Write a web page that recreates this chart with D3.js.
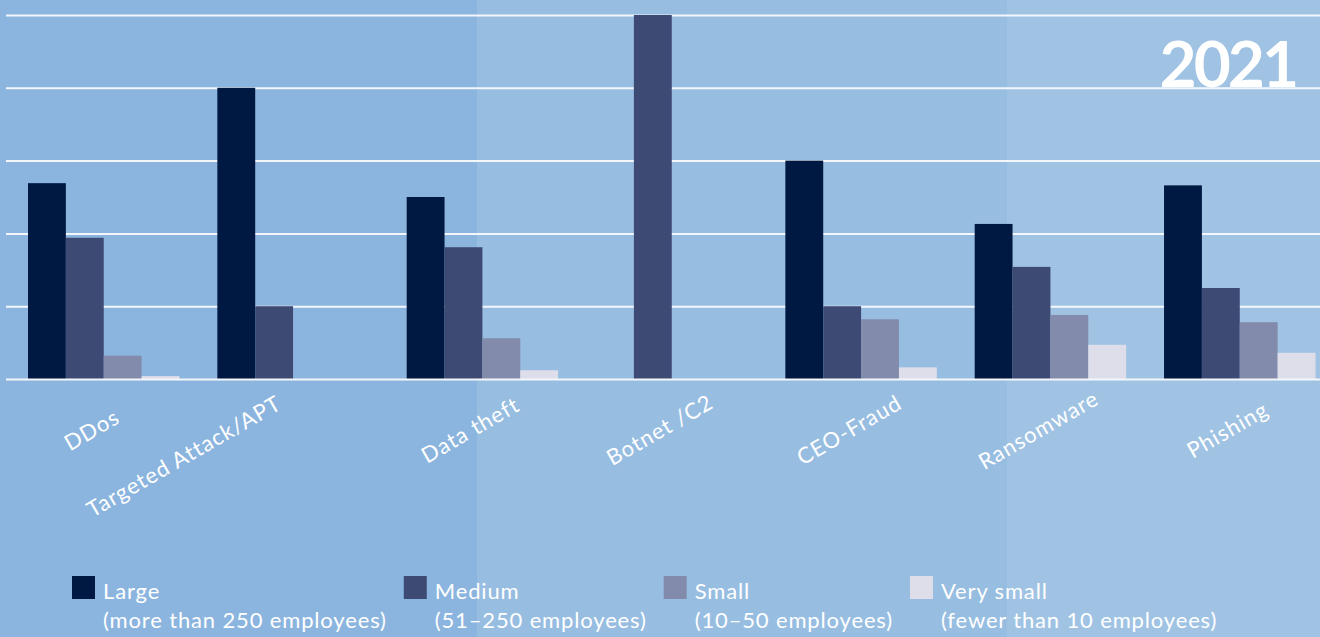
<!DOCTYPE html>
<html><head><meta charset="utf-8">
<script src="https://cdn.jsdelivr.net/npm/d3@7"></script>
<style>html,body{margin:0;padding:0;overflow:hidden;background:#8BB5DE}</style>
</head><body><svg id="c" width="1320" height="637"></svg>
<script>
// ---- data ----
const categories = ["DDos", "Targeted Attack/APT", "Data theft", "Botnet /C2", "CEO-Fraud", "Ransomware", "Phishing"];
const seriesNames = ["Large", "Medium", "Small", "Very small"];
const seriesNotes = ["(more than 250 employees)", "(51–250 employees)", "(10–50 employees)", "(fewer than 10 employees)"];
const large     = [26.9, 40.0, 25.0, 0,    30.0, 21.3, 26.6];
const medium    = [19.4, 10.0, 18.1, 50.0, 10.0, 15.4, 12.5];
const small     = [3.2,  0,    5.6,  0,    8.2,  8.8,  7.8];
const verySmall = [0.4,  0,    1.2,  0,    1.6,  4.7,  3.6];
const yTicks = [10, 20, 30, 40, 50];
const yearLabel = "2021";

// ---- layout / style ----
const W = 1320, H = 637;
const colors = ["#001943", "#3C4A74", "#828BAB", "#DEDEEA"];
const bgEdges = [0, 477, 1007, 1320];
const bgColors = ["#8BB5DE", "#97BDE1", "#A0C3E4"];
const font = "Lato, 'Noto Sans', sans-serif";

const seriesValues = [large, medium, small, verySmall];
const table = categories.map((c, i) => ({
  category: c,
  values: seriesNames.map((s, j) => ({ series: s, value: seriesValues[j][i] }))
}));

const svg = d3.select("#c");

// background panels
svg.selectAll("rect.bg").data(bgColors).join("rect")
  .attr("class", "bg")
  .attr("x", (d, i) => bgEdges[i]).attr("y", 0)
  .attr("width", (d, i) => bgEdges[i + 1] - bgEdges[i]).attr("height", H)
  .attr("fill", d => d);

const x = d3.scaleBand().domain(categories).range([28, 1315.5]).paddingInner(0.2).paddingOuter(0);
const xs = d3.scaleBand().domain(seriesNames).range([0, x.bandwidth()]);
const y = d3.scaleLinear().domain([0, 50]).range([379, 15]);

// gridlines
const gridLeft = 6;
const grid = svg.append("g").attr("transform", `translate(${gridLeft},0)`)
  .call(d3.axisLeft(y).tickValues(yTicks).tickSize(-(W - gridLeft)).tickFormat(""));
grid.select(".domain").remove();
grid.selectAll(".tick line").attr("stroke", "#F3F7FC").attr("stroke-width", 2);

// year label
svg.append("text")
  .attr("x", 1296).attr("y", 87)
  .attr("text-anchor", "end")
  .attr("font-family", font).attr("font-weight", 700)
  .attr("font-size", 64).attr("letter-spacing", -3)
  .attr("fill", "#ffffff")
  .text(yearLabel);

// bars
const groups = svg.append("g").selectAll("g").data(table).join("g")
  .attr("transform", d => `translate(${x(d.category)},0)`);
groups.selectAll("rect").data(d => d.values.filter(v => v.value > 0)).join("rect")
  .attr("x", d => xs(d.series))
  .attr("y", d => y(d.value))
  .attr("width", xs.bandwidth())
  .attr("height", d => y(0) - y(d.value))
  .attr("fill", d => colors[seriesNames.indexOf(d.series)]);

// baseline
svg.append("line")
  .attr("x1", gridLeft).attr("x2", W)
  .attr("y1", y(0) + 0.5).attr("y2", y(0) + 0.5)
  .attr("stroke", "#F3F7FC").attr("stroke-width", 2);

// category labels (rotated)
const angle = -30;
const rad = Math.abs(angle) * Math.PI / 180;
const labelSize = 22;
const labels = svg.append("g").selectAll("text").data(categories).join("text")
  .attr("font-family", font).attr("font-size", labelSize)
  .attr("letter-spacing", 1)
  .attr("fill", "#ffffff")
  .text(d => d);
labels.each(function (d) {
  const t = d3.select(this);
  const L = this.getComputedTextLength();
  const cx = x(d) + x.bandwidth() / 2;
  const px = cx - 12, py = 430;
  const topY = py - (L / 2) * Math.sin(rad) - 0.5 * labelSize * Math.cos(rad);
  if (topY < 372) {
    // long label: end it just below-left of its group so it does not cross the baseline
    t.attr("text-anchor", "end").attr("transform", `translate(${cx - 10},408) rotate(${angle})`);
  } else {
    t.attr("text-anchor", "middle").attr("dy", "0.35em")
      .attr("transform", `translate(${px},${py}) rotate(${angle})`);
  }
});

// legend
const legendSize = 22;
let lx = 72;
seriesNames.forEach((s, i) => {
  const g = svg.append("g").attr("transform", `translate(${lx},0)`);
  g.append("rect").attr("x", 0).attr("y", 576).attr("width", 23).attr("height", 23).attr("fill", colors[i]);
  const t1 = g.append("text").attr("x", 31).attr("y", 599)
    .attr("font-family", font).attr("font-size", legendSize).attr("letter-spacing", 0.85)
    .attr("fill", "#ffffff").text(s);
  const t2 = g.append("text").attr("x", 31).attr("y", 628)
    .attr("font-family", font).attr("font-size", legendSize).attr("letter-spacing", 0.85)
    .attr("fill", "#ffffff").text(seriesNotes[i]);
  const w = Math.max(t1.node().getComputedTextLength(), t2.node().getComputedTextLength());
  lx += 31 + w + 17;
});
</script></body></html>
